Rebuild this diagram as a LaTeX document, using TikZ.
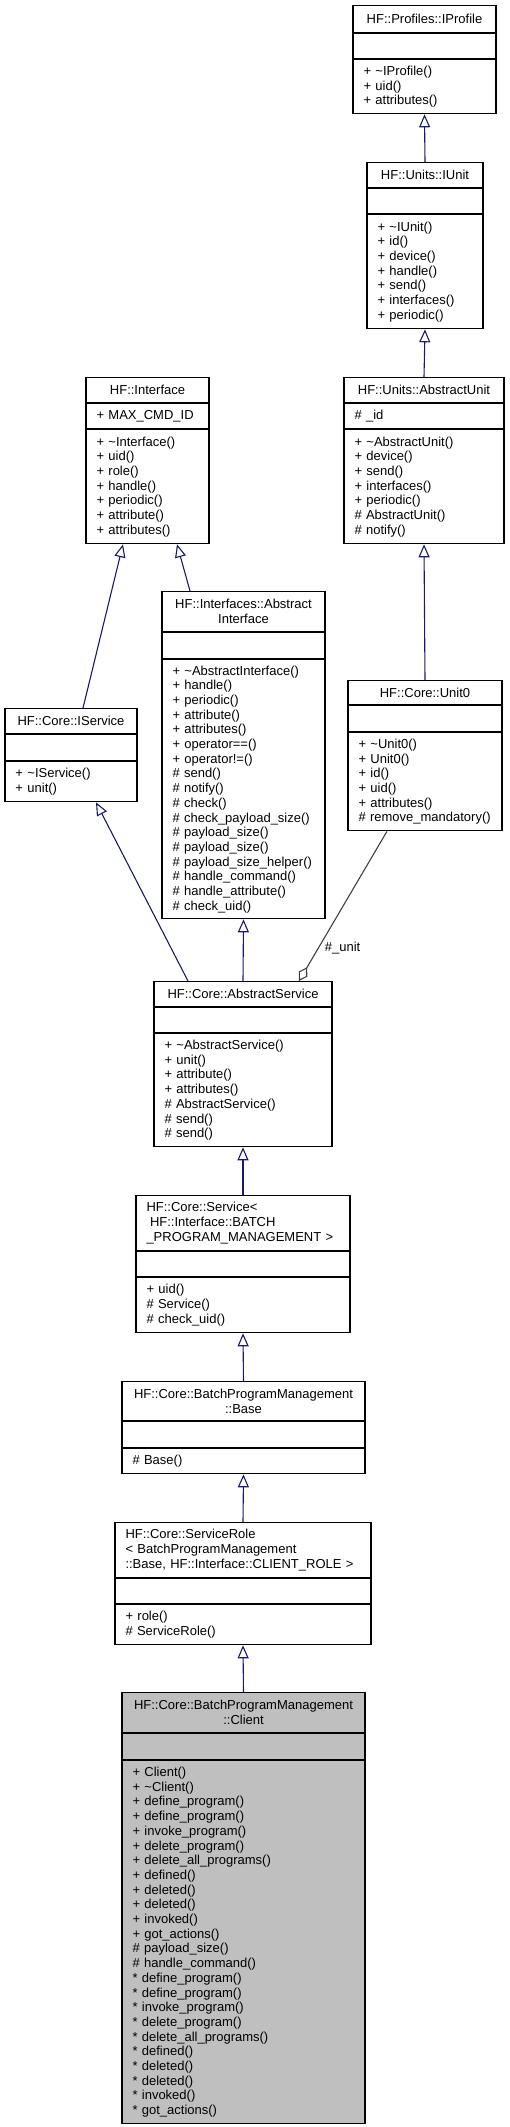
\documentclass[tikz,border=0pt]{standalone}
\usepackage{fontspec}
\setmainfont{Liberation Sans}
\usetikzlibrary{positioning,arrows.meta}
\definecolor{edgeblue}{HTML}{191970}
\definecolor{edgegrey}{HTML}{404040}
\definecolor{focusgrey}{HTML}{BFBFBF}
\tikzset{
  member/.style={draw=black, line width=1.1pt, fill=white, inner xsep=10.5pt, inner ysep=0pt,
    align=left, font=\fontsize{13}{14.7}\selectfont},
  classname/.style={member, align=center, anchor=north},
  inherit/.style={draw=edgeblue, line width=1.1pt, -{Triangle[open, length=13pt, width=11pt]}},
  uses/.style={draw=edgegrey, line width=1.1pt, -{Diamond[open, length=16pt, width=10pt]}},
}
\newcommand{\tld}{\textasciitilde}
\begin{document}
\begin{tikzpicture}[x=1pt, y=-1pt]
  \useasboundingbox (0,0) rectangle (510,2127);
  % right column
  \node[classname, text width=122pt, minimum height=27pt] (prof) at (424.5,5) {HF::Profiles::IProfile};
  \node[member, text width=122pt, minimum height=25pt, below=0pt of prof] (profA) {};
  \node[member, text width=122pt, minimum height=54pt, below=0pt of profA] (profO)
    {+ \tld IProfile()\\+ uid()\\+ attributes()};

  \node[classname, text width=95pt, minimum height=25pt] (iunit) at (425,162) {HF::Units::IUnit};
  \node[member, text width=95pt, minimum height=25pt, below=0pt of iunit] (iunitA) {};
  \node[member, text width=95pt, minimum height=114pt, below=0pt of iunitA] (iunitO)
    {+ \tld IUnit()\\+ id()\\+ device()\\+ handle()\\+ send()\\+ interfaces()\\+ periodic()};

  \node[classname, text width=139pt, minimum height=25pt] (aunit) at (424,377) {HF::Units::AbstractUnit};
  \node[member, text width=139pt, minimum height=25pt, below=0pt of aunit] (aunitA) {\# \_id};
  \node[member, text width=139pt, minimum height=114pt, below=0pt of aunitA] (aunitO)
    {+ \tld AbstractUnit()\\+ device()\\+ send()\\+ interfaces()\\+ periodic()\\\# AbstractUnit()\\\# notify()};

  \node[classname, text width=133pt, minimum height=24pt] (unit) at (425,680) {HF::Core::Unit0};
  \node[member, text width=133pt, minimum height=26pt, below=0pt of unit] (unitA) {};
  \node[member, text width=133pt, minimum height=98pt, below=0pt of unitA] (unitO)
    {+ \tld Unit0()\\+ Unit0()\\+ id()\\+ uid()\\+ attributes()\\\# remove\_mandatory()};

  % left part
  \node[classname, text width=102pt, minimum height=25pt] (iface) at (147.5,377) {HF::Interface};
  \node[member, text width=102pt, minimum height=25pt, below=0pt of iface] (ifaceA) {+ MAX\_CMD\_ID};
  \node[member, text width=102pt, minimum height=114pt, below=0pt of ifaceA] (ifaceO)
    {+ \tld Interface()\\+ uid()\\+ role()\\+ handle()\\+ periodic()\\+ attribute()\\+ attributes()};

  \node[classname, text width=142pt, minimum height=40pt] (aiface) at (243.5,591) {HF::Interfaces::Abstract\\Interface};
  \node[member, text width=142pt, minimum height=26pt, below=0pt of aiface] (aifaceA) {};
  \node[member, text width=142pt, minimum height=259pt, below=0pt of aifaceA] (aifaceO)
    {+ \tld AbstractInterface()\\+ handle()\\+ periodic()\\+ attribute()\\+ attributes()\\+ operator==()\\+ operator!=()\\
     \# send()\\\# notify()\\\# check()\\\# check\_payload\_size()\\\# payload\_size()\\\# payload\_size()\\
     \# payload\_size\_helper()\\\# handle\_command()\\\# handle\_attribute()\\\# check\_uid()};

  \node[classname, text width=111pt, minimum height=25pt] (iserv) at (71,708) {HF::Core::IService};
  \node[member, text width=111pt, minimum height=26pt, below=0pt of iserv] (iservA) {};
  \node[member, text width=111pt, minimum height=40pt, below=0pt of iservA] (iservO)
    {+ \tld IService()\\+ unit()};

  % main column
  \node[classname, text width=157pt, minimum height=25pt] (aserv) at (243,981) {HF::Core::AbstractService};
  \node[member, text width=157pt, minimum height=25pt, below=0pt of aserv] (aservA) {};
  \node[member, text width=157pt, minimum height=113pt, below=0pt of aservA] (aservO)
    {+ \tld AbstractService()\\+ unit()\\+ attribute()\\+ attributes()\\\# AbstractService()\\\# send()\\\# send()};

  \node[classname, align=left, text width=193pt, minimum height=55pt] (serv) at (243,1195)
    {HF::Core::Service<\\\hspace*{3.5pt}HF::Interface::BATCH\\\_PROGRAM\_MANAGEMENT~>};
  \node[member, text width=193pt, minimum height=25pt, below=0pt of serv] (servA) {};
  \node[member, text width=193pt, minimum height=55pt, below=0pt of servA] (servO)
    {+ uid()\\\# Service()\\\# check\_uid()};

  \node[classname, text width=222pt, minimum height=39pt] (base) at (243.5,1381) {HF::Core::BatchProgramManagement\\::Base};
  \node[member, text width=222pt, minimum height=26pt, below=0pt of base] (baseA) {};
  \node[member, text width=222pt, minimum height=25pt, below=0pt of baseA] (baseO) {\# Base()};

  \node[classname, align=left, text width=235pt, minimum height=55pt] (role) at (243,1522)
    {HF::Core::ServiceRole\\<~BatchProgramManagement\\::Base,~HF::Interface::CLIENT\_ROLE~>};
  \node[member, text width=235pt, minimum height=25pt, below=0pt of role] (roleA) {};
  \node[member, text width=235pt, minimum height=40pt, below=0pt of roleA] (roleO)
    {+ role()\\\# ServiceRole()};

  \node[classname, fill=focusgrey, text width=222pt, minimum height=40pt] (client) at (243.5,1692)
    {HF::Core::BatchProgramManagement\\::Client};
  \node[member, fill=focusgrey, text width=222pt, minimum height=26pt, below=0pt of client] (clientA) {};
  \node[member, fill=focusgrey, text width=222pt, minimum height=363pt, below=0pt of clientA] (clientO)
    {+ Client()\\+ \tld Client()\\+ define\_program()\\+ define\_program()\\+ invoke\_program()\\+ delete\_program()\\
     + delete\_all\_programs()\\+ defined()\\+ deleted()\\+ deleted()\\+ invoked()\\+ got\_actions()\\
     \# payload\_size()\\\# handle\_command()\\{*} define\_program()\\{*} define\_program()\\{*} invoke\_program()\\
     {*} delete\_program()\\{*} delete\_all\_programs()\\{*} defined()\\{*} deleted()\\{*} deleted()\\{*} invoked()\\{*} got\_actions()};

  % inheritance
  \draw[inherit] (iunit.north) -- (profO.south);
  \draw[inherit] (aunit.north) -- (iunitO.south);
  \draw[inherit] (unit.north) -- (aunitO.south);
  \draw[inherit] ([xshift=12pt]iserv.north) -- ([xshift=-24.5pt]ifaceO.south);
  \draw[inherit] ([xshift=-53.5pt]aiface.north) -- ([xshift=29.5pt]ifaceO.south);
  \draw[inherit] ([xshift=-55pt]aserv.north) -- ([xshift=25pt]iservO.south);
  \draw[inherit] (aserv.north) -- (aifaceO.south);
  \draw[inherit] (serv.north) -- (aservO.south);
  \draw[inherit] (base.north) -- (servO.south);
  \draw[inherit] (role.north) -- (baseO.south);
  \draw[inherit] (client.north) -- (roleO.south);
  % aggregation
  \draw[uses] ([xshift=-38pt]unitO.south) --
    node[pos=0.78, anchor=west, inner sep=6pt, font=\fontsize{13}{14.7}\selectfont] (unitlbl) {\#\_unit}
    ([xshift=56pt]aserv.north);
\end{tikzpicture}
\end{document}
